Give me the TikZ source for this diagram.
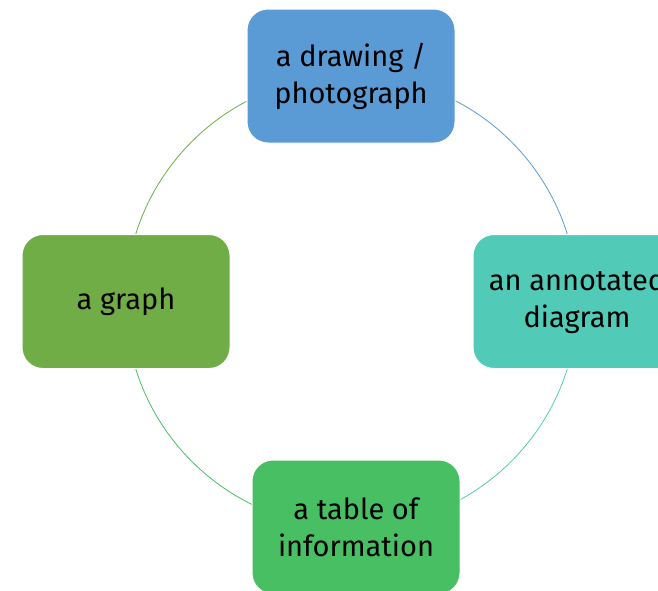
\documentclass[tikz,border=0pt]{standalone}
\usepackage{fontspec}
\setmainfont{Fira Sans}
\usetikzlibrary{calc}
\definecolor{cblue}{HTML}{5B9BD5}
\definecolor{cteal}{HTML}{52CAB8}
\definecolor{cgreen}{HTML}{48BF63}
\definecolor{colive}{HTML}{70AD47}
\begin{document}
\begin{tikzpicture}[x=1pt,y=-1pt,
  card/.style={draw=white,line width=1pt,rounded corners=21pt,minimum width=208pt,minimum height=134pt,
    align=center,font=\fontsize{29}{37}\selectfont,text=black,inner sep=0pt},
  ring/.style={line width=0.8pt}]
\useasboundingbox (0,0) rectangle (658,590);
\clip (0,0) rectangle (658,590);
\coordinate (c) at (351.5,301.5);
\draw[ring,cblue] ($(c)+(270:226)$) arc[start angle=270,end angle=360,radius=226];
\draw[ring,cteal] ($(c)+(0:226)$) arc[start angle=0,end angle=90,radius=226];
\draw[ring,cgreen] ($(c)+(90:226)$) arc[start angle=90,end angle=180,radius=226];
\draw[ring,colive] ($(c)+(180:226)$) arc[start angle=180,end angle=270,radius=226];
\node[card,fill=cblue] (top) at (351,76) {a drawing /\\photograph};
\node[card,fill=cteal] (right) at (577,301.5) {an annotated\\diagram};
\node[card,fill=cgreen] (bottom) at (356,527) {a table of\\information};
\node[card,fill=colive] (left) at (126,301.5) {a graph};
\end{tikzpicture}
\end{document}
